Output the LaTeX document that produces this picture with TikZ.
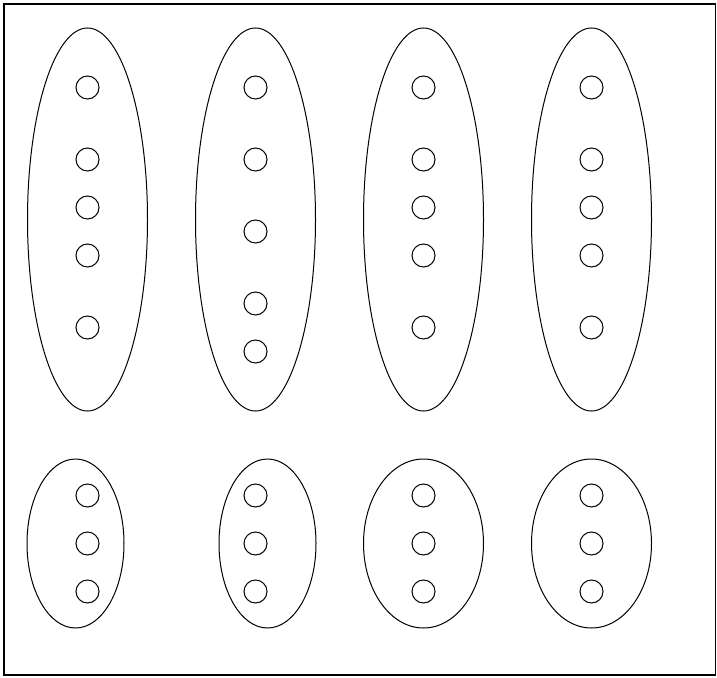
\documentclass[tikz,border=0pt]{standalone}
\begin{document}
\begin{tikzpicture}[x=1pt,y=-1pt,line width=1pt,
  group/.style={draw,ellipse,inner sep=0pt},
  dot/.style={draw,circle,minimum size=23pt,inner sep=0pt}]
\useasboundingbox (0,0) rectangle (717,677);
\draw[line width=1.3pt] (4,4) rectangle (715.5,675);
% large ellipses
\foreach \i/\x in {1/87.5,2/255.5,3/423.5,4/591.5}{
  \draw (\x,219.5) ellipse [x radius=60, y radius=191.5];
}
% small groups
\draw (75.5,543.5) ellipse [x radius=48.5, y radius=84.5];
\draw (267.5,543.5) ellipse [x radius=48.5, y radius=84.5];
\draw (423.5,543.5) ellipse [x radius=60, y radius=84.5];
\draw (591.5,543.5) ellipse [x radius=60, y radius=84.5];
% circles in large ellipses
\foreach \x in {87.5,423.5,591.5}{
  \foreach \y in {87.5,159.5,207.5,255.5,327.5}{
    \node[dot] at (\x,\y) {};
  }
}
\foreach \y in {87.5,159.5,231.5,303.5,351.5}{
  \node[dot] at (255.5,\y) {};
}
% circles in small ellipses
\foreach \x in {87.5,255.5,423.5,591.5}{
  \foreach \y in {495.5,543.5,591.5}{
    \node[dot] at (\x,\y) {};
  }
}
\end{tikzpicture}
\end{document}
